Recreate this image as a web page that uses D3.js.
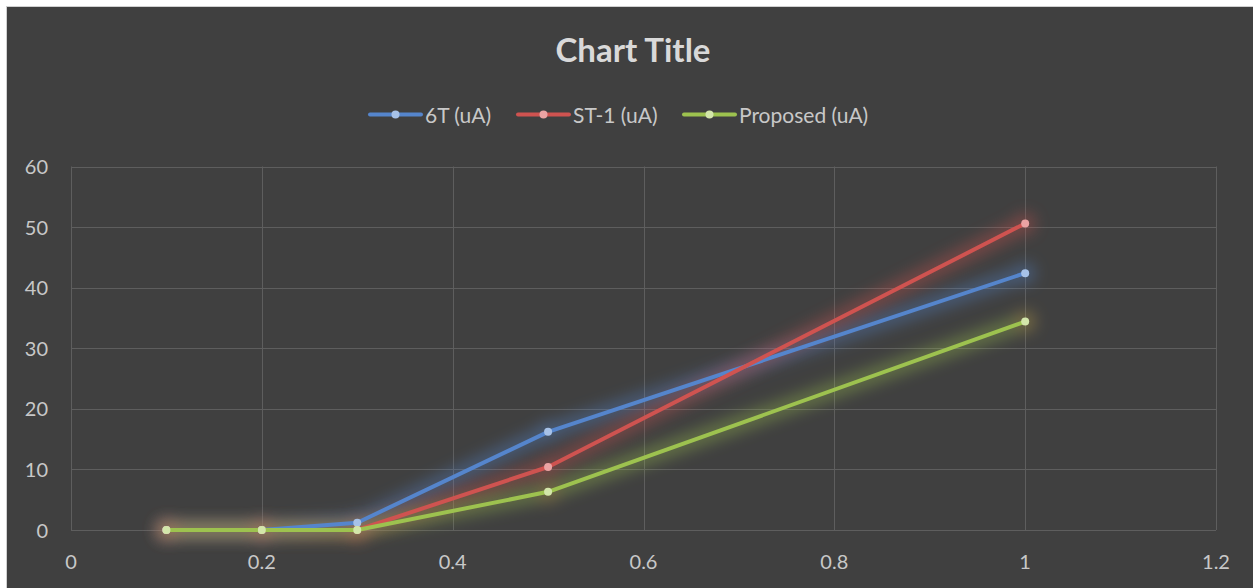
<!DOCTYPE html>
<html>
<head>
<meta charset="utf-8">
<script src="https://cdn.jsdelivr.net/npm/d3@7"></script>
<style>
  body { margin: 0; background: #fff; }
  text { font-family: Lato, "Open Sans", sans-serif; }
</style>
</head>
<body>
<script>
// data
var xValues = [0.1, 0.2, 0.3, 0.5, 1];
var series6T = [0, 0, 1.2, 16.2, 42.4];
var seriesST1 = [0, 0, 0, 10.4, 50.6];
var seriesProposed = [0, 0, 0, 6.3, 34.4];
var seriesNames = ["6T (uA)", "ST-1 (uA)", "Proposed (uA)"];
var xTicks = [0, 0.2, 0.4, 0.6, 0.8, 1, 1.2];
var yTicks = [0, 10, 20, 30, 40, 50, 60];

var width = 1253, height = 588;
var lineColors = ["#5585cc", "#cf5350", "#9dc24f"];
var markColors = ["#a7c2e8", "#eba3a3", "#d3e6aa"];

var svg = d3.select("body").append("svg")
  .attr("width", width)
  .attr("height", height);

// chart area background
svg.append("rect")
  .attr("x", 6.5).attr("y", 6.5)
  .attr("width", width).attr("height", height)
  .style("fill", "#404040")
  .style("stroke", "#d0d0d0")
  .style("stroke-width", 1);

var defs = svg.append("defs");
var glow = defs.append("filter").attr("id", "glow")
  .attr("x", "-20%").attr("y", "-50%").attr("width", "140%").attr("height", "200%");
glow.append("feGaussianBlur").attr("stdDeviation", 8);

var x = d3.scaleLinear().domain([0, 1.2]).range([71, 1216]);
var y = d3.scaleLinear().domain([0, 60]).range([530, 166.5]);

// gridlines
svg.append("g")
  .selectAll("line.h")
  .data(yTicks)
  .enter().append("line")
  .attr("x1", x(0)).attr("x2", x(1.2))
  .attr("y1", d => Math.round(y(d)) + 0.5).attr("y2", d => Math.round(y(d)) + 0.5)
  .style("stroke", "#5e5e5e").style("stroke-width", 1);

svg.append("g")
  .selectAll("line.v")
  .data(xTicks)
  .enter().append("line")
  .attr("x1", d => Math.round(x(d)) + 0.5).attr("x2", d => Math.round(x(d)) + 0.5)
  .attr("y1", y(60)).attr("y2", y(0))
  .style("stroke", "#5e5e5e").style("stroke-width", 1);

// axis labels
svg.append("g")
  .selectAll("text")
  .data(yTicks)
  .enter().append("text")
  .attr("x", 48)
  .attr("y", d => y(d) + 7.5)
  .attr("text-anchor", "end")
  .style("font-size", "20px")
  .style("fill", "#c8c8c8")
  .text(d => d);

svg.append("g")
  .selectAll("text")
  .data(xTicks)
  .enter().append("text")
  .attr("x", d => x(d))
  .attr("y", 569)
  .attr("text-anchor", "middle")
  .style("font-size", "20px")
  .style("fill", "#c8c8c8")
  .text(d => d);

// title
svg.append("text")
  .attr("x", 633).attr("y", 62)
  .attr("text-anchor", "middle")
  .style("font-size", "33px")
  .style("font-weight", "bold")
  .style("fill", "#d9d9d9")
  .text("Chart Title");

var allSeries = [series6T, seriesST1, seriesProposed];

var line = d3.line()
  .x((d, i) => x(xValues[i]))
  .y(d => y(d));

// glow under lines
allSeries.forEach((s, k) => {
  var g = svg.append("g").attr("filter", "url(#glow)").style("opacity", 0.45);
  g.append("path")
    .attr("d", line(s))
    .style("fill", "none")
    .style("stroke", lineColors[k])
    .style("stroke-width", 14)
    .style("stroke-linejoin", "round");
  g.selectAll("circle")
    .data(s)
    .enter().append("circle")
    .attr("cx", (d, i) => x(xValues[i]))
    .attr("cy", d => y(d))
    .attr("r", 10)
    .style("fill", k == 2 ? "#c9a94a" : lineColors[k]);
});

allSeries.forEach((s, k) => {
  svg.append("path")
    .attr("d", line(s))
    .style("fill", "none")
    .style("stroke", lineColors[k])
    .style("stroke-width", 4)
    .style("stroke-linejoin", "round");
  svg.append("g")
    .selectAll("circle")
    .data(s)
    .enter().append("circle")
    .attr("cx", (d, i) => x(xValues[i]))
    .attr("cy", d => y(d))
    .attr("r", 4)
    .style("fill", markColors[k]);
});

// legend
var legendX = [370, 518, 684];
seriesNames.forEach((name, k) => {
  var lg = svg.append("g").attr("transform", "translate(" + legendX[k] + ",114.5)");
  lg.append("line")
    .attr("x1", 0).attr("x2", 51)
    .style("stroke", lineColors[k])
    .style("stroke-width", 4)
    .style("stroke-linecap", "round");
  lg.append("circle")
    .attr("cx", 25.5).attr("r", 4)
    .style("fill", markColors[k]);
  lg.append("text")
    .attr("x", 55).attr("y", 8)
    .style("font-size", "21px")
    .style("fill", "#c8c8c8")
    .text(name);
});
</script>
</body>
</html>
